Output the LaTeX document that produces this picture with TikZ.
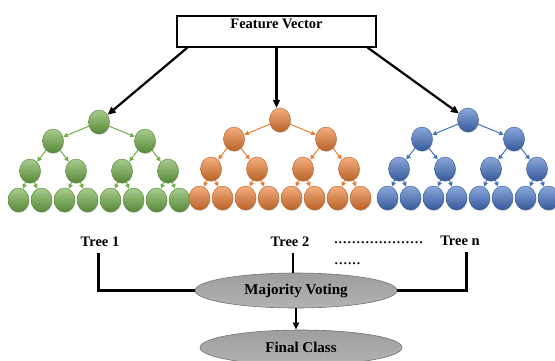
\documentclass[tikz,border=0pt]{standalone}
\usepackage{fontspec}
\setmainfont{Liberation Serif}
\usetikzlibrary{arrows.meta,shapes.geometric,shadows}

\definecolor{leafgreen}{RGB}{112,173,71}
\definecolor{leaforange}{RGB}{237,125,49}
\definecolor{leafblue}{RGB}{68,114,196}

\tikzset{
  treenode/.style={ellipse, minimum width=21pt, minimum height=24pt, inner sep=0pt,
    top color=#1!62!white, middle color=#1, bottom color=#1!78!black,
    draw=#1!75!black, line width=0.4pt,
    drop shadow={shadow xshift=0.6pt, shadow yshift=-1pt, opacity=0.3}},
  branch/.style={draw=#1, line width=1pt, shorten >=0.3pt, -{Triangle[length=4.5pt,width=4.5pt]}},
  fvbox/.style={draw, line width=1.1pt, fill=white, minimum width=199pt,
    inner xsep=2pt, inner ysep=2pt, text height=10pt, text depth=17pt,
    font=\fontsize{14.5}{17}\selectfont\bfseries},
  feed/.style={line width=2.2pt, -{Triangle[length=8pt,width=7pt]}},
  lbl/.style={inner sep=1pt, font=\fontsize{14.5}{17}\selectfont\bfseries},
  dotrow/.style={inner sep=0pt, font=\fontsize{17.9}{20}\selectfont},
  vote/.style={line width=3pt},
  thinvote/.style={line width=2.2pt},
  grayoval/.style={ellipse, minimum width=202pt, minimum height=35pt, inner sep=0pt,
    top color=black!38, bottom color=black!30, draw=black!55, line width=0.6pt,
    font=\fontsize{15}{17}\selectfont\bfseries},
  down/.style={line width=2pt, -{Triangle[length=7pt,width=6pt]}}
}

% A complete binary tree of depth 3: root, 2, 4 and 8 nodes
\newcommand\growtree[4]{%
  \node[treenode=#4] (#1-r) at (#2,#3) {};
  \foreach \s/\n in {-1/a,1/b}{%
    \node[treenode=#4] (#1-\n) at ({#2+46*\s},{#3+19}) {};
    \draw[branch=#4] (#1-r) -- (#1-\n);
    \foreach \t/\m in {-1/a,1/b}{%
      \node[treenode=#4] (#1-\n\m) at ({#2+46*\s+23*\t},{#3+49}) {};
      \draw[branch=#4] (#1-\n) -- (#1-\n\m);
      \foreach \u/\k in {-1/a,1/b}{%
        \node[treenode=#4] (#1-\n\m\k) at ({#2+46*\s+23*\t+11.5*\u},{#3+78}) {};
        \draw[branch=#4] (#1-\n\m) -- (#1-\n\m\k);
      }
    }
  }
}

\begin{document}
\begin{tikzpicture}[x=1pt,y=-1pt]
  \useasboundingbox (0,0) rectangle (555,360);

  % the three trees of the forest
  \growtree{g}{99}{122}{leafgreen}
  \growtree{o}{280}{120}{leaforange}
  \growtree{b}{468}{120}{leafblue}

  % input
  \node[fvbox] (fv) at (276.5,31.5) {Feature Vector};
  \draw[feed] ([xshift=11pt]fv.south west) -- (g-r);
  \draw[feed] (fv.south) -- (fv.south |- o-r.north);
  \draw[feed] ([xshift=-9pt]fv.south east) -- (b-r);

  % tree labels
  \node[lbl] (t1) at (100,242) {Tree 1};
  \node[lbl] (t2) at (290,242) {Tree 2};
  \node[lbl] (tn) at (460,241) {Tree n};
  \node[dotrow] (d1) at (378.5,243) {....................};
  \node[dotrow] (d2) at (347.5,264) {......};

  % voting and result
  \node[grayoval] (maj) at (296,290.5) {Majority Voting};
  \node[grayoval] (fin) at (301,347.5) {Final Class};

  \draw[vote] ([xshift=-2pt,yshift=-5pt]t1.south) |- (maj.west);
  \draw[vote] ([xshift=6pt,yshift=-5pt]tn.south) |- (maj.east);
  \draw[thinvote] ([xshift=3pt,yshift=-5pt]t2.south) -- ([xshift=3pt]t2.south |- maj.north);
  \draw[down] (maj.south) -- (maj.south |- fin.north);
\end{tikzpicture}
\end{document}
